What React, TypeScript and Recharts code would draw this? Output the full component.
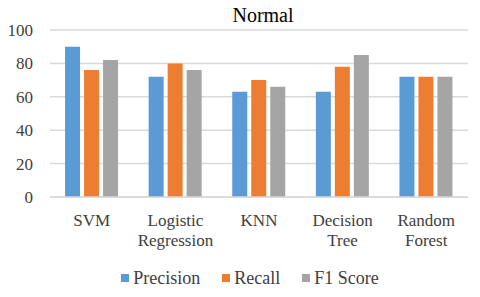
import React from 'react';
import { BarChart, Bar, XAxis, YAxis, CartesianGrid, Legend } from 'recharts';

const categories = ['SVM', 'Logistic Regression', 'KNN', 'Decision Tree', 'Random Forest'];
const categoryLines = [['SVM'], ['Logistic', 'Regression'], ['KNN'], ['Decision', 'Tree'], ['Random', 'Forest']];
const seriesNames = ['Precision', 'Recall', 'F1 Score'];
const precision = [90, 72, 63, 63, 72];
const recall = [76, 80, 70, 78, 72];
const f1Score = [82, 76, 66, 85, 72];
const yTicks = [0, 20, 40, 60, 80, 100];

const data = categories.map((c, i) => ({
  name: c,
  Precision: precision[i],
  Recall: recall[i],
  'F1 Score': f1Score[i],
}));

const FONT = '"Liberation Serif", "DejaVu Serif", serif';

const XTick = (props: any) => {
  const { x, y, payload } = props;
  const lines = categoryLines[payload.index] || [payload.value];
  return (
    <text x={x} y={y} textAnchor="middle" style={{ fontFamily: FONT, fontSize: 17 }} fill="#404040">
      {lines.map((l: string, i: number) => (
        <tspan key={i} x={x} dy={i === 0 ? 27 : 20}>{l}</tspan>
      ))}
    </text>
  );
};

const YTick = (props: any) => {
  const { x, y, payload } = props;
  return (
    <text x={x} y={y} dy={6} textAnchor="end" style={{ fontFamily: FONT, fontSize: 17 }} fill="#404040">
      {payload.value}
    </text>
  );
};

const LegendContent = (props: any) => {
  const payload = [...(props.payload || [])].sort(
    (a: any, b: any) => seriesNames.indexOf(a.value) - seriesNames.indexOf(b.value)
  );
  return (
    <div style={{ display: 'flex', justifyContent: 'center', alignItems: 'center', height: 22, paddingBottom: 8, paddingLeft: 32, fontFamily: FONT, fontSize: 18, color: '#404040' }}>
      {payload.map((p: any, i: number) => (
        <div key={i} style={{ display: 'flex', alignItems: 'center', marginLeft: i === 0 ? 0 : 22 }}>
          <span style={{ display: 'inline-block', width: 8, height: 8, background: p.color, marginRight: 4 }} />
          <span>{p.value}</span>
        </div>
      ))}
    </div>
  );
};

export default function App() {
  return (
    <div style={{ position: 'absolute', left: 0, top: 0, width: 480, height: 297, background: '#fff' }}>
      <div style={{ position: 'absolute', left: 54, width: 418, top: 4, textAlign: 'center', fontFamily: FONT, fontSize: 20, color: '#000' }}>
        Normal
      </div>
      <BarChart width={480} height={297} data={data} margin={{ top: 30, right: 12, left: 0, bottom: 0 }} barCategoryGap="18%" barGap={4}>
        <CartesianGrid vertical={false} stroke="#D9D9D9" strokeWidth={1.5} />
        <XAxis dataKey="name" height={70} tick={<XTick />} tickLine={false} axisLine={{ stroke: '#D9D9D9', strokeWidth: 1.5 }} interval={0} tickSize={0} />
        <YAxis domain={[0, 100]} ticks={yTicks} width={50} tickLine={false} axisLine={false} tickSize={0} tickMargin={17}
          tick={<YTick />} />
        <Legend content={<LegendContent />} verticalAlign="bottom" height={30} />
        <Bar dataKey="Precision" fill="#5B9BD5" isAnimationActive={false} />
        <Bar dataKey="Recall" fill="#ED7D31" isAnimationActive={false} />
        <Bar dataKey="F1 Score" fill="#A5A5A5" isAnimationActive={false} />
      </BarChart>
    </div>
  );
}
